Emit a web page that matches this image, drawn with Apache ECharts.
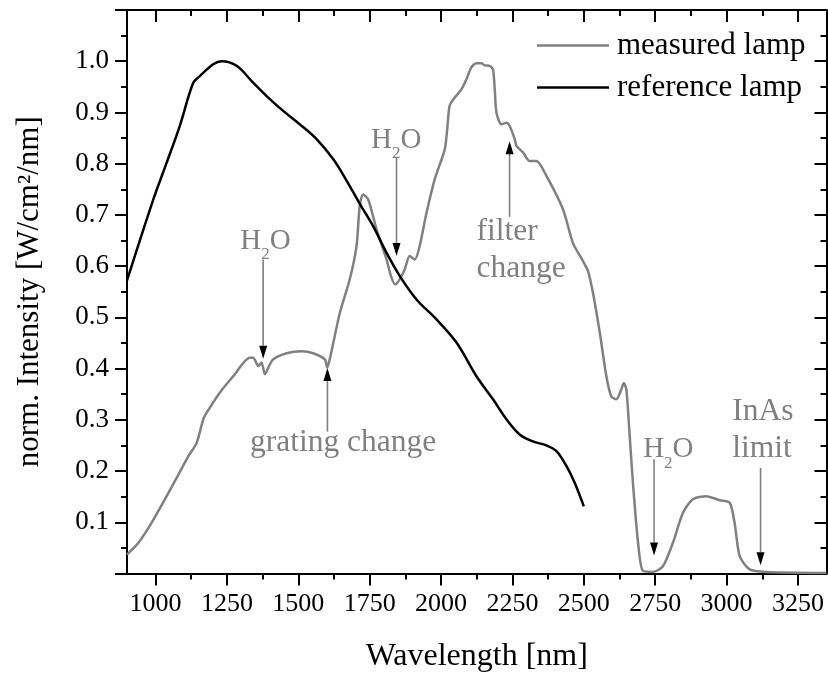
<!DOCTYPE html>
<html><head><meta charset="utf-8">
<script src="https://cdn.jsdelivr.net/npm/echarts@6/dist/echarts.min.js"></script>
<style>html,body{margin:0;padding:0;background:#fff}#c{width:828px;height:675px}</style>
</head><body><div id="c"></div>
<script>
const FONT = 'Liberation Serif';
const GRAY = '#808080';

const seriesNames = ['measured lamp', 'reference lamp'];
const measuredWavelength = [900,940,986,1033,1080,1115,1144,1167,1179,1225,1272,1330,1342,1360,1371,1383,1395,1412,1459,1511,1552,1593,1601,1610,1646,1680,1704,1715,1727,1745,1774,1809,1826,1840,1855,1873,1890,1908,1925,1949,1978,2013,2022,2030,2048,2071,2089,2106,2124,2141,2153,2170,2182,2188,2194,2211,2229,2240,2258,2264,2287,2310,2334,2369,2427,2462,2497,2515,2532,2556,2579,2596,2614,2631,2640,2649,2660,2672,2690,2707,2742,2777,2812,2847,2882,2929,2976,3011,3028,3046,3081,3139,3350];
const measuredIntensity = [0.037,0.060,0.099,0.145,0.193,0.229,0.255,0.301,0.314,0.353,0.385,0.421,0.421,0.405,0.412,0.389,0.402,0.418,0.430,0.434,0.430,0.418,0.402,0.418,0.510,0.574,0.639,0.717,0.740,0.730,0.672,0.613,0.578,0.564,0.574,0.594,0.620,0.613,0.639,0.704,0.770,0.828,0.870,0.913,0.929,0.945,0.965,0.988,0.996,0.996,0.992,0.991,0.984,0.945,0.900,0.877,0.880,0.874,0.848,0.835,0.822,0.805,0.805,0.776,0.711,0.645,0.610,0.590,0.548,0.470,0.385,0.346,0.340,0.359,0.372,0.359,0.275,0.177,0.060,0.005,0.003,0.014,0.060,0.118,0.145,0.151,0.143,0.138,0.099,0.034,0.008,0.003,0.001];
const referenceWavelength = [900,992,1039,1085,1132,1155,1202,1231,1284,1342,1389,1447,1505,1564,1622,1666,1716,1762,1809,1855,1914,1984,2054,2124,2182,2229,2276,2322,2369,2404,2439,2468,2500];
const referenceIntensity = [0.572,0.730,0.802,0.874,0.958,0.971,0.994,1.000,0.991,0.958,0.932,0.903,0.877,0.848,0.809,0.770,0.721,0.678,0.626,0.581,0.535,0.496,0.451,0.385,0.340,0.301,0.271,0.258,0.250,0.239,0.210,0.177,0.131];

const xMajorTicks = [1000,1250,1500,1750,2000,2250,2500,2750,3000,3250];
const xMinorTicks = [1125,1375,1625,1875,2125,2375,2625,2875,3125];

// annotations: label text, label anchor (data), arrow x, arrow tail y, arrow tip y
const annotationLabels = ['H2O', 'grating change', 'H2O', 'filter\nchange', 'H2O', 'InAs\nlimit'];
const annotationLabelX = [1385, 1657, 1843, 2124, 2796, 3020];
const annotationLabelY = [0.660, 0.255, 0.857, 0.631, 0.253, 0.280];
const annotationAlign = ['center', 'center', 'center', 'left', 'center', 'left'];
const arrowX = [1377, 1602, 1844, 2240, 2746, 3119];
const arrowTail = [0.613, 0.277, 0.811, 0.696, 0.223, 0.206];
const arrowTip = [0.419, 0.401, 0.620, 0.844, 0.035, 0.016];

const zip = (a, b) => a.map((v, i) => [v, b[i]]);
const chart = echarts.init(document.getElementById('c'), null, {renderer: 'canvas'});

const tickLine = {color: '#000', width: 2};
const baseX = {type: 'value', min: 900, max: 3350, gridIndex: 0, splitLine: {show: false}};
const baseY = {type: 'value', min: 0, max: 1.1, interval: 0.1, gridIndex: 0, splitLine: {show: false}};

const option = {
  animation: false,
  backgroundColor: '#fff',
  grid: {left: 127, right: 1.5, top: 10, bottom: 101.5, containLabel: false, outerBoundsMode: 'none'},
  legend: {
    orient: 'vertical', left: 537, top: 30, padding: 0, itemWidth: 72, itemHeight: 2.5, itemGap: 11,
    icon: 'rect', data: seriesNames,
    textStyle: {fontFamily: FONT, fontSize: 31, color: '#000', lineHeight: 30, padding: [0, 0, 0, 3]}
  },
  xAxis: [
    Object.assign({}, baseX, {
      position: 'bottom',
      axisLine: {show: true, lineStyle: {color: '#000', width: 2}},
      axisTick: {show: true, inside: false, length: 12, lineStyle: tickLine, customValues: xMajorTicks},
      axisLabel: {show: true, customValues: xMajorTicks, margin: 18, color: '#000', fontSize: 26, fontFamily: FONT,
        formatter: v => String(v)},
      name: 'Wavelength [nm]', nameLocation: 'middle', nameGap: 67,
      nameTextStyle: {fontSize: 32, fontFamily: FONT, color: '#000'}
    }),
    Object.assign({}, baseX, {
      position: 'bottom', axisLine: {show: false},
      axisTick: {show: true, inside: false, length: 6, lineStyle: tickLine, customValues: xMinorTicks},
      axisLabel: {show: false}
    }),
    Object.assign({}, baseX, {
      position: 'top',
      axisLine: {show: true, lineStyle: {color: '#000', width: 2}},
      axisTick: {show: true, inside: true, length: 12, lineStyle: tickLine, customValues: xMajorTicks},
      axisLabel: {show: false}
    }),
    Object.assign({}, baseX, {
      position: 'top', axisLine: {show: false},
      axisTick: {show: true, inside: true, length: 6, lineStyle: tickLine, customValues: xMinorTicks},
      axisLabel: {show: false}
    })
  ],
  yAxis: [
    Object.assign({}, baseY, {
      position: 'left',
      axisLine: {show: true, lineStyle: {color: '#000', width: 2}},
      axisTick: {show: true, inside: false, length: 12, lineStyle: tickLine},
      minorTick: {show: true, splitNumber: 2, length: 6, lineStyle: tickLine},
      axisLabel: {
        margin: 18, color: '#000', fontSize: 27, fontFamily: FONT,
        formatter: v => (v > 0.001 && v < 1.05) ? v.toFixed(1) : ''
      },
      name: 'norm. Intensity [W/cm²/nm]', nameLocation: 'middle', nameGap: 82, nameRotate: 90,
      nameTextStyle: {fontSize: 31, fontFamily: FONT, fontWeight: 'normal', color: '#000'}
    }),
    Object.assign({}, baseY, {
      position: 'right',
      axisLine: {show: true, lineStyle: {color: '#000', width: 2}},
      axisTick: {show: true, inside: true, length: 12, lineStyle: tickLine},
      minorTick: {show: true, splitNumber: 2, length: 6, lineStyle: tickLine},
      axisLabel: {show: false}
    })
  ],
  series: [
    {
      name: seriesNames[0], type: 'line', xAxisIndex: 0, yAxisIndex: 0,
      data: zip(measuredWavelength, measuredIntensity),
      showSymbol: false, smooth: 0.25,
      lineStyle: {color: GRAY, width: 2.5}, itemStyle: {color: GRAY}, z: 2
    },
    {
      name: seriesNames[1], type: 'line', xAxisIndex: 0, yAxisIndex: 0,
      data: zip(referenceWavelength, referenceIntensity),
      showSymbol: false, smooth: 0.35,
      lineStyle: {color: '#000', width: 2.5}, itemStyle: {color: '#000'}, z: 3
    }
  ]
};
chart.setOption(option);

function px(x, y) { return chart.convertToPixel({xAxisIndex: 0, yAxisIndex: 0}, [x, y]); }

const graphics = [];
annotationLabels.forEach((label, i) => {
  const p = px(annotationLabelX[i], annotationLabelY[i]);
  if (label === 'H2O') {
    graphics.push({
      type: 'text', x: p[0], y: p[1] + 5, z: 10,
      style: {
        text: '{n|H}{s|2}{n|O}', align: 'center', verticalAlign: 'middle',
        rich: {
          n: {fontSize: 29, lineHeight: 28, fontFamily: FONT, fill: GRAY, verticalAlign: 'top'},
          s: {fontSize: 17, lineHeight: 17, fontFamily: FONT, fill: GRAY, verticalAlign: 'top', padding: [20, 0, 0, 0]}
        }
      }
    });
  } else {
    graphics.push({
      type: 'text', x: p[0], y: p[1], z: 10,
      style: {
        text: label, align: annotationAlign[i], verticalAlign: 'middle',
        fontSize: 31.5, lineHeight: 37, fontFamily: FONT, fill: GRAY
      }
    });
  }
  const tail = px(arrowX[i], arrowTail[i]);
  const tip = px(arrowX[i], arrowTip[i]);
  const dir = tip[1] > tail[1] ? 1 : -1;
  const headLen = 13, headHalf = 4;
  graphics.push({
    type: 'line', z: 10,
    shape: {x1: tail[0], y1: tail[1], x2: tip[0], y2: tip[1] - dir * headLen},
    style: {stroke: GRAY, lineWidth: 1.6}
  });
  graphics.push({
    type: 'polygon', z: 11,
    shape: {points: [[tip[0], tip[1]], [tip[0] - headHalf, tip[1] - dir * headLen], [tip[0] + headHalf, tip[1] - dir * headLen]]},
    style: {fill: '#000'}
  });
});
chart.setOption({graphic: graphics});
</script>
</body></html>
